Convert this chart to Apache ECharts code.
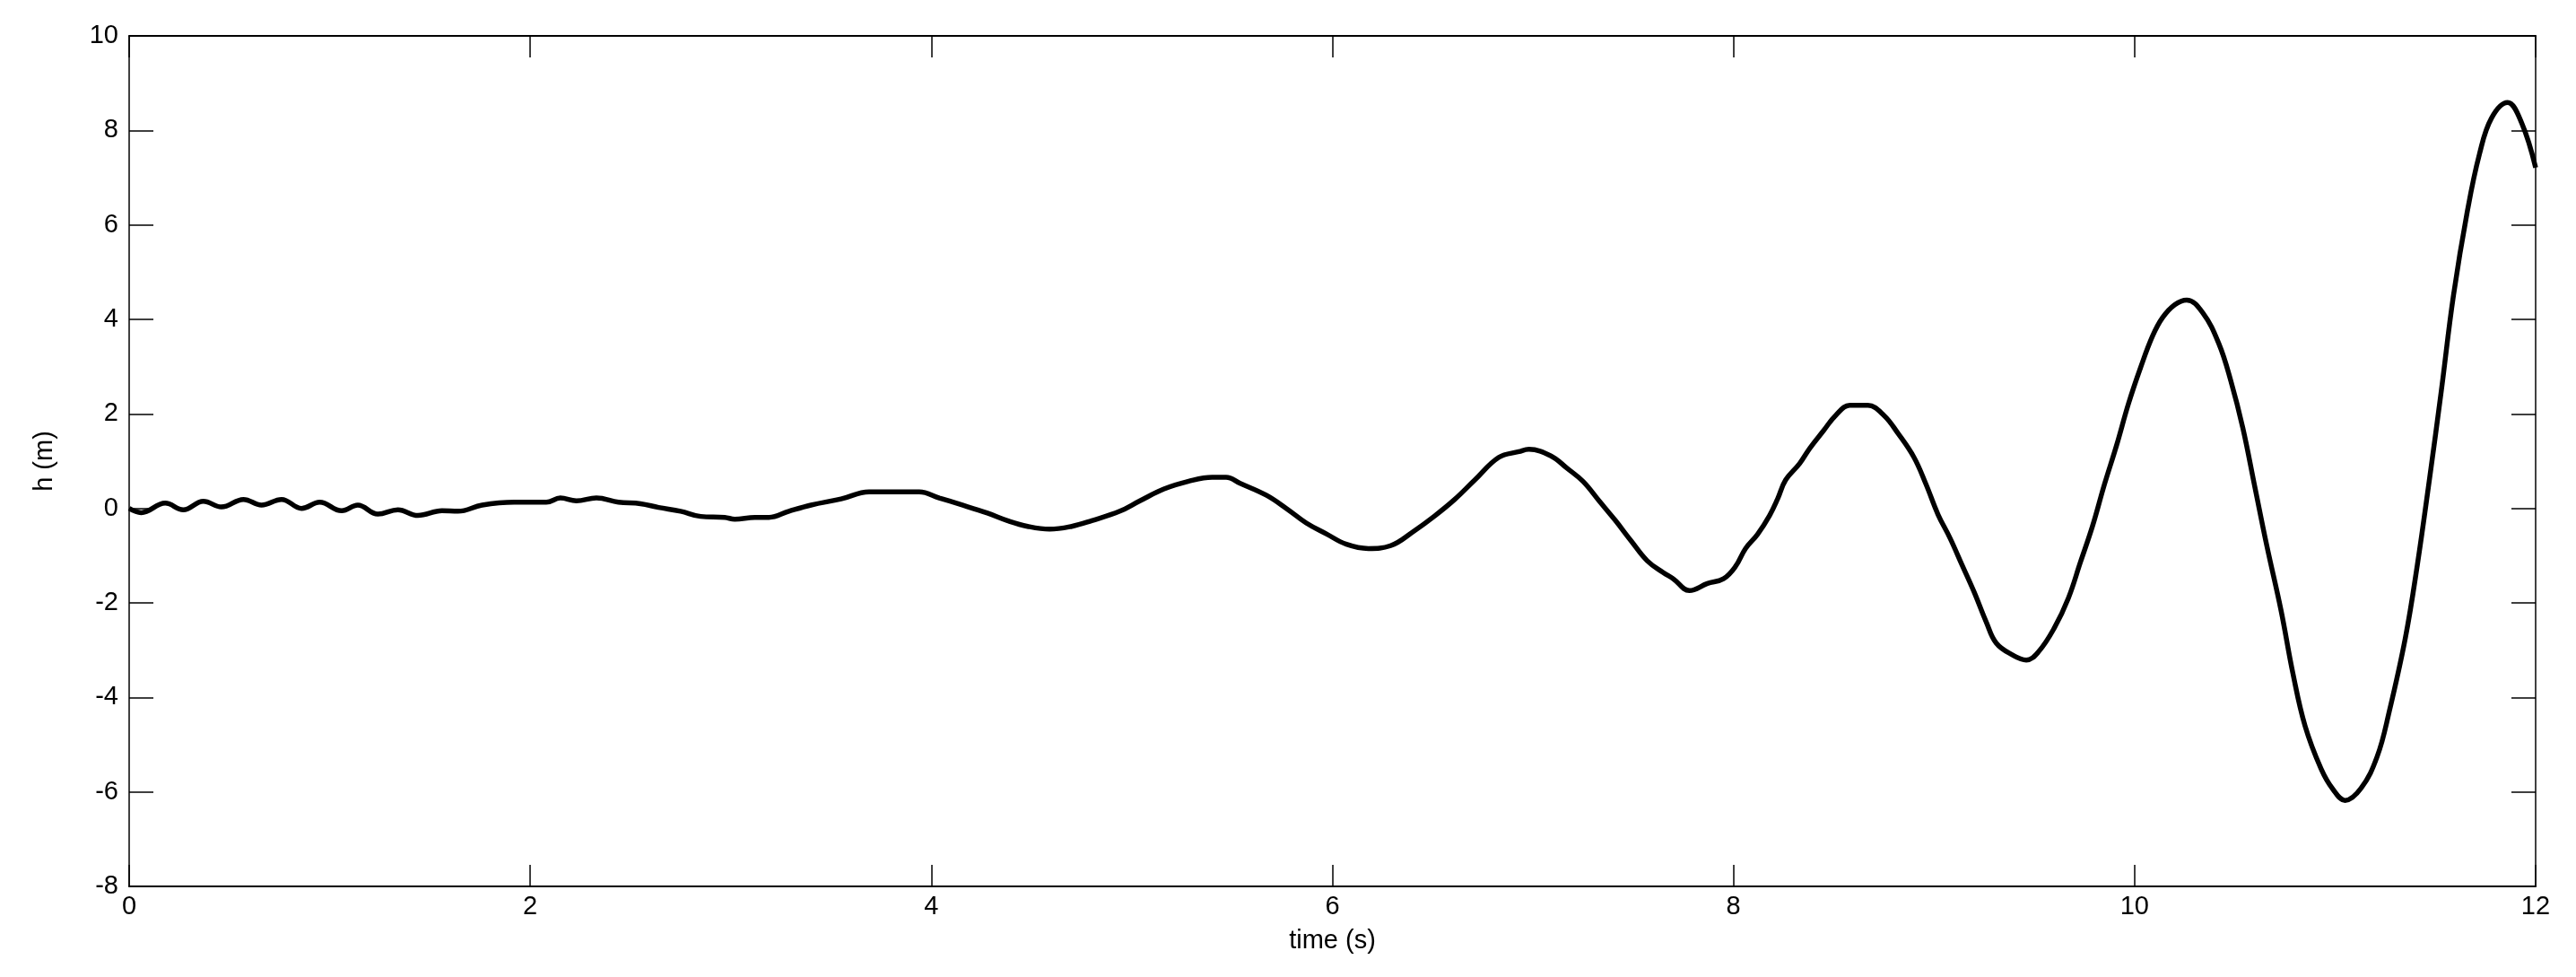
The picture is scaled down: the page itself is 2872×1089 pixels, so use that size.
<!DOCTYPE html>
<html>
<head>
<meta charset="utf-8">
<script src="https://cdn.jsdelivr.net/npm/echarts@6/dist/echarts.min.js"></script>
<style>
html,body{margin:0;padding:0;background:#fff;}
#chart{width:2872px;height:1089px;}
</style>
</head>
<body>
<div id="chart"></div>
<script>
// time (s)
const timeS = [
0.00,0.06,0.18,0.27,0.37,0.46,0.57,0.66,0.76,0.86,0.95,1.06,1.14,1.24,1.34,1.44,1.56,1.64,1.76,1.92,
2.08,2.15,2.23,2.33,2.44,2.55,2.64,2.75,2.85,2.97,3.02,3.12,3.19,3.29,3.40,3.55,3.69,3.94,4.04,4.14,
4.28,4.38,4.48,4.59,4.70,4.80,4.94,5.04,5.16,5.28,5.40,5.47,5.54,5.67,5.77,5.87,5.97,6.07,6.18,6.29,
6.41,6.51,6.61,6.71,6.83,6.93,6.98,7.09,7.17,7.25,7.33,7.41,7.49,7.57,7.65,7.70,7.78,7.87,7.95,8.01,
8.06,8.12,8.18,8.22,8.26,8.33,8.38,8.45,8.51,8.58,8.67,8.75,8.82,8.90,8.96,9.02,9.08,9.14,9.20,9.26,
9.31,9.39,9.46,9.52,9.60,9.67,9.73,9.79,9.85,9.91,9.97,10.03,10.09,10.14,10.20,10.26,10.34,10.42,10.48,10.54,
10.60,10.66,10.73,10.79,10.85,10.93,10.99,11.05,11.13,11.21,11.27,11.35,11.41,11.47,11.53,11.59,11.66,11.72,11.78,11.86,
11.93,12.00
];
// h (m)
const heightM = [
0.00,-0.09,0.11,-0.03,0.15,0.03,0.19,0.07,0.19,0.00,0.13,-0.05,0.07,-0.12,-0.03,-0.15,-0.05,-0.06,0.07,0.13,
0.13,0.22,0.16,0.22,0.13,0.10,0.02,-0.06,-0.17,-0.19,-0.23,-0.19,-0.19,-0.06,0.07,0.20,0.35,0.35,0.22,0.09,
-0.10,-0.26,-0.38,-0.44,-0.38,-0.26,-0.06,0.16,0.41,0.57,0.66,0.66,0.53,0.28,0.00,-0.31,-0.54,-0.76,-0.85,-0.79,
-0.47,-0.16,0.19,0.60,1.08,1.20,1.25,1.11,0.85,0.57,0.16,-0.25,-0.69,-1.11,-1.36,-1.49,-1.74,-1.59,-1.49,-1.23,
-0.85,-0.55,-0.15,0.20,0.60,0.95,1.27,1.65,1.97,2.18,2.18,1.97,1.59,1.08,0.51,-0.13,-0.63,-1.20,-1.77,-2.40,
-2.85,-3.10,-3.21,-3.04,-2.53,-1.90,-1.14,-0.38,0.51,1.33,2.22,2.98,3.65,4.04,4.31,4.41,4.14,3.49,2.70,1.70,
0.45,-0.80,-2.15,-3.50,-4.60,-5.51,-5.95,-6.18,-5.92,-5.25,-4.30,-2.75,-1.20,0.60,2.50,4.50,6.30,7.50,8.26,8.59,
8.16,7.21
];
const xTicks = [0,2,4,6,8,10,12];
const yTicks = [-8,-6,-4,-2,0,2,4,6,8,10];

const seriesData = timeS.map((t,i)=>[t, heightM[i]]);
const font = '"Liberation Sans", Arial, Helvetica, sans-serif';
const chart = echarts.init(document.getElementById('chart'), null, {renderer:'canvas'});

function xAxisCfg(pos, showLabel){
  return {
    type:'value', position:pos, min:xTicks[0], max:xTicks[xTicks.length-1], interval:2,
    axisLine:{show:true, onZero:false, lineStyle:{color:'#000', width:2}},
    axisTick:{show:true, inside:true, length:24, lineStyle:{color:'#000', width:1.5}},
    axisLabel:{show:showLabel, color:'#000', fontFamily:font, fontSize:29, margin:8},
    splitLine:{show:false},
    name: showLabel ? 'time (s)' : '', nameLocation:'middle', nameGap:46,
    nameTextStyle:{color:'#000', fontFamily:font, fontSize:29}
  };
}
function yAxisCfg(pos, showLabel){
  return {
    type:'value', position:pos, min:yTicks[0], max:yTicks[yTicks.length-1], interval:2,
    axisLine:{show:true, onZero:false, lineStyle:{color:'#000', width:1.5}},
    axisTick:{show:true, inside:true, length:27, lineStyle:{color:'#000', width:1.5}},
    axisLabel:{show:showLabel, color:'#000', fontFamily:font, fontSize:29, margin:12},
    splitLine:{show:false},
    name: showLabel ? 'h (m)' : '', nameLocation:'middle', nameGap:80, nameRotate:90,
    nameTextStyle:{color:'#000', fontFamily:font, fontSize:29}
  };
}

chart.setOption({
  backgroundColor:'#fff',
  animation:false,
  grid:{left:144, top:40, right:45, bottom:101, containLabel:false},
  xAxis:[xAxisCfg('bottom', true), xAxisCfg('top', false)],
  yAxis:[yAxisCfg('left', true), yAxisCfg('right', false)],
  series:[{
    type:'line', xAxisIndex:0, yAxisIndex:0,
    data:seriesData, showSymbol:false, symbol:'none', smooth:0.4,
    lineStyle:{color:'#000', width:5.5}
  }]
});
</script>
</body>
</html>
